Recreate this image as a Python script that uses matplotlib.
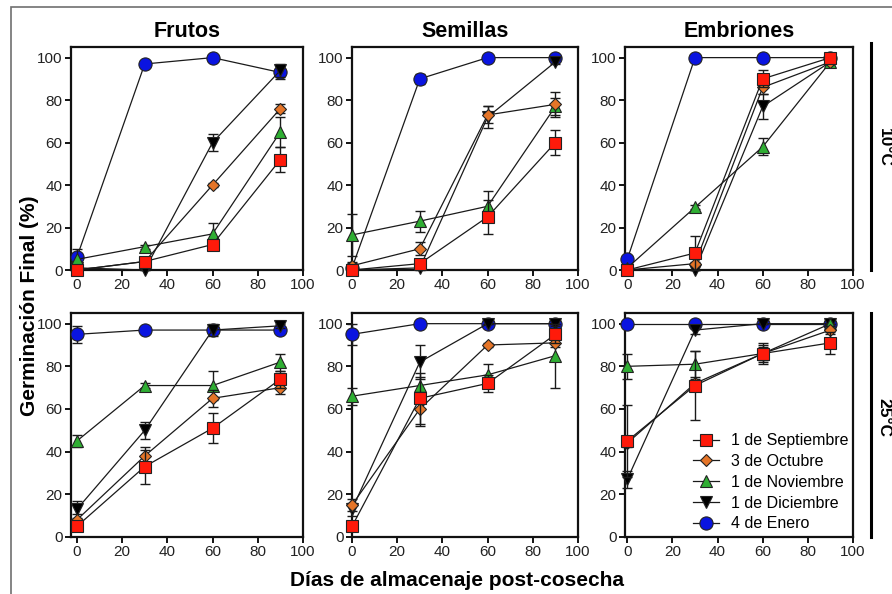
import matplotlib
matplotlib.use("Agg")
import matplotlib.pyplot as plt
from matplotlib.lines import Line2D
from matplotlib.patches import Rectangle

plt.rcParams['font.family'] = ['Liberation Sans', 'DejaVu Sans']

# ---- data -------------------------------------------------------------
days = [0, 30, 60, 90]
series_labels = ["1 de Septiembre", "3 de Octubre", "1 de Noviembre",
                 "1 de Diciembre", "4 de Enero"]
column_titles = ["Frutos", "Semillas", "Embriones"]
row_labels = ["10°C", "25°C"]
x_ticks = [0, 20, 40, 60, 80, 100]
y_ticks = [0, 20, 40, 60, 80, 100]

# rows: Septiembre, Octubre, Noviembre, Diciembre, Enero
frutos_10 = [[0, 4, 12, 52], [0, 4, 40, 76], [5, 11, 17, 65],
             [1, 0, 60, 94], [6, 97, 100, 93]]
frutos_10_err = [[0, 1, 1, 6], [0, 1, 1, 2], [5, 1, 5, 7],
                 [1, 0, 4, 3], [2, 1, 0, 3]]
semillas_10 = [[0, 3, 25, 60], [2, 10, 73, 78], [16.5, 23, 30, 77],
               [0, 1, 72, 98], [1, 90, 100, 100]]
semillas_10_err = [[0, 1, 8, 6], [2, 3, 4, 6], [10, 5, 7, 4],
                   [0, 1, 5, 1], [1, 2.5, 0, 0]]
embriones_10 = [[0, 8, 90, 100], [0, 3, 86, 98], [1, 29.5, 58, 98],
                [0, 0, 77, 98], [5, 100, 100, 100]]
embriones_10_err = [[0, 8, 4, 0], [0, 1, 3, 1], [1, 1, 4, 1],
                    [0, 0, 6, 1], [1, 0, 0, 0]]
frutos_25 = [[5, 33, 51, 74], [8, 38, 65, 70], [45, 71, 71, 82],
             [13, 50, 97, 99], [95, 97, 97, 97]]
frutos_25_err = [[2, 8, 7, 4], [3, 4, 4, 3], [3, 1, 7, 4],
                 [4, 4, 3, 1], [4, 1, 1, 1]]
semillas_25 = [[5, 65, 72, 95], [15, 60, 90, 91], [66, 71, 76, 85],
               [13, 82, 100, 100], [95, 100, 100, 100]]
semillas_25_err = [[2, 12, 4, 4], [3, 8, 1, 2], [4, 4, 5, 15],
                   [3, 8, 0, 0], [5, 0, 0, 0]]
embriones_25 = [[45, 71, 86, 91], [44, 72, 86, 97], [80, 81, 86, 100],
                [27, 97, 100, 100], [100, 100, 100, 100]]
embriones_25_err = [[17, 16, 4, 5], [2, 2, 3, 2], [6, 6, 5, 0],
                    [4, 2, 0, 0], [0, 0, 0, 0]]

panels = [[(frutos_10, frutos_10_err), (semillas_10, semillas_10_err),
           (embriones_10, embriones_10_err)],
          [(frutos_25, frutos_25_err), (semillas_25, semillas_25_err),
           (embriones_25, embriones_25_err)]]

# ---- styles -----------------------------------------------------------
markers = ['s', 'D', '^', 'v', 'o']
face_colors = ['#ff1a0a', '#e57528', '#2fae33', '#000000', '#0a14e0']
marker_sizes = [9, 6.5, 9, 9, 9.5]
z_orders = [10, 9, 8, 7, 6]   # first series on top

W, H = 892, 594
fig = plt.figure(figsize=(W / 100, H / 100), dpi=100)


def px_axes(left, top, right, bottom):
    return fig.add_axes([left / W, 1 - bottom / H, (right - left) / W,
                         (bottom - top) / H])


col_px = [(71, 303, -2.6), (352, 578, 0.0), (625, 853, -1.0)]
row_px = [(47, 270), (313, 537)]

# outer frame
fig.patches.append(Rectangle((11 / W, -0.05), 1.2, 1 - 7 / H + 0.05,
                             transform=fig.transFigure, fill=False,
                             edgecolor='#6f6f6f', linewidth=1.2))

axes = {}
for r, (top, bottom) in enumerate(row_px):
    for c, (left, right, x0) in enumerate(col_px):
        ax = px_axes(left, top, right, bottom)
        axes[(r, c)] = ax
        values, errors = panels[r][c]
        for k in range(5):
            ax.errorbar(days, values[k], yerr=errors[k], fmt='none',
                        ecolor='#1a1a1a', elinewidth=1.0, capsize=3.5,
                        capthick=1.0, zorder=z_orders[k] - 0.5,
                        clip_on=False)
            ax.plot(days, values[k], color='#1a1a1a', linewidth=0.9,
                    marker=markers[k], markersize=marker_sizes[k],
                    markerfacecolor=face_colors[k],
                    markeredgecolor='#222222', markeredgewidth=0.8,
                    zorder=z_orders[k], clip_on=False,
                    label=series_labels[k])
        ax.set_xlim(x0, 100)
        ax.set_ylim(0, 105)
        ax.set_xticks(x_ticks)
        ax.set_yticks(y_ticks)
        ax.tick_params(axis='both', direction='out', length=4, width=1.3,
                       labelsize=11, labelcolor='#222222', pad=2)
        for s in ax.spines.values():
            s.set_linewidth(1.6)
            s.set_color('#111111')
        if r == 0:
            ax.set_title(column_titles[c], fontsize=15.5, fontweight='bold',
                         pad=7)

# legend in the lower-right panel
leg_ax = axes[(1, 2)]
handles = [Line2D([0], [0], color='#1a1a1a', linewidth=0.9,
                  marker=markers[k], markersize=marker_sizes[k],
                  markerfacecolor=face_colors[k], markeredgecolor='#222222',
                  markeredgewidth=0.8) for k in range(5)]
leg_ax.legend(handles, series_labels, loc='lower right',
              bbox_to_anchor=(1.015, -0.01), frameon=False, fontsize=11.5,
              handlelength=1.6, handletextpad=0.75, labelspacing=0.36,
              borderaxespad=0.1)

# temperature brackets on the right
for (top, bottom), lbl, ty in zip([(43, 270), (313, 537)], row_labels,
                                  [147, 418]):
    fig.add_artist(Line2D([871 / W, 871 / W], [1 - top / H, 1 - bottom / H],
                          transform=fig.transFigure, color='black',
                          linewidth=2.2))
    fig.text(884 / W, 1 - ty / H, lbl, rotation=270, ha='center',
             va='center', fontsize=12.5, fontweight='bold')

fig.text(30 / W, 1 - 306 / H, "Germinación Final (%)", rotation=90,
         ha='center', va='center', fontsize=15, fontweight='bold')
fig.text(457 / W, 1 - 581 / H, "Días de almacenaje post-cosecha",
         ha='center', va='center', fontsize=15, fontweight='bold')

fig.savefig("out.png", dpi=100)
